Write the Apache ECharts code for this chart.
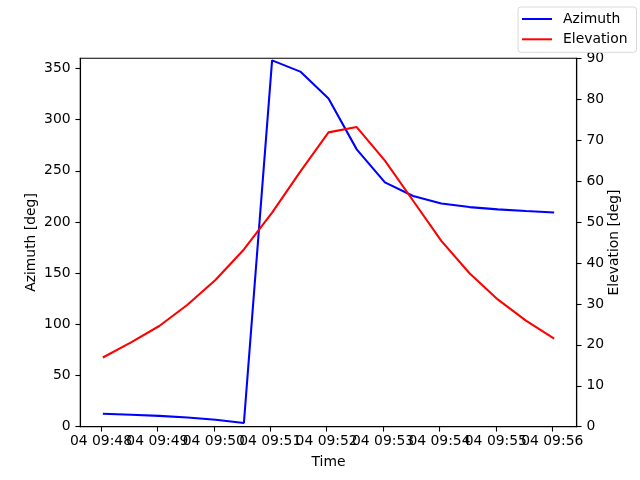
<!DOCTYPE html>
<html>
<head>
<meta charset="utf-8">
<script src="https://cdn.jsdelivr.net/npm/echarts@6/dist/echarts.min.js"></script>
<style>
  html, body { margin: 0; padding: 0; background: #fff; }
  #main { width: 640px; height: 480px; }
</style>
</head>
<body>
<div id="main"></div>
<script>
// sample times (day 04), one every 30 s
var times = ['09:48:02', '09:48:32', '09:49:02', '09:49:32', '09:50:02', '09:50:32',
             '09:51:02', '09:51:32', '09:52:02', '09:52:32', '09:53:02', '09:53:32',
             '09:54:02', '09:54:32', '09:55:02', '09:55:32', '09:56:02'];
var azimuth = [12.6, 11.6, 10.6, 9.0, 6.8, 3.6,
               358.0, 347.0, 320.7, 271.0, 238.7, 225.4,
               218.2, 214.6, 212.4, 210.7, 209.4];
var elevation = [16.9, 20.6, 24.6, 29.8, 35.9, 43.3,
                 52.3, 62.3, 71.9, 73.2, 65.0, 55.2,
                 45.4, 37.5, 31.1, 25.9, 21.5];
var xTicks = ['09:48', '09:49', '09:50', '09:51', '09:52', '09:53', '09:54', '09:55', '09:56'];
var azTicks = [0, 50, 100, 150, 200, 250, 300, 350];

// seconds from 09:48:00
function toSec(t) {
    var p = t.split(':');
    return (+p[0] - 9) * 3600 + (+p[1] - 48) * 60 + (p[2] ? +p[2] : 0);
}
var xs = times.map(toSec);
var span = xs[xs.length - 1] - xs[0];
// matplotlib style 5% margins on the time range
var xMin = xs[0] - 0.05 * span,
    xMax = xs[xs.length - 1] + 0.05 * span;
var tickSecs = xTicks.map(toSec);
var tickName = {};
xTicks.forEach(function (t, i) { tickName[tickSecs[i]] = '04 ' + t; });
// labels overlap like in matplotlib, so split them over two stacked axes
// (otherwise echarts drops the ones that collide)
var evenTicks = tickSecs.filter(function (v, i) { return i % 2 === 0; });
var oddTicks = tickSecs.filter(function (v, i) { return i % 2 === 1; });

var font = 'DejaVu Sans';
var fs = 13.9;
var axisLineStyle = {color: '#000', width: 1.1};

function timeAxis(ticks, withLine) {
    return {
        type: 'value',
        min: xMin,
        max: xMax,
        position: 'bottom',
        name: withLine ? 'Time' : '',
        nameLocation: 'middle',
        nameGap: 29,
        nameTextStyle: {fontFamily: font, fontSize: fs, color: '#000'},
        splitLine: {show: false},
        axisLine: {show: withLine, onZero: false, lineStyle: axisLineStyle},
        axisTick: {show: true, length: 4.9, lineStyle: axisLineStyle, customValues: ticks},
        axisLabel: {
            fontFamily: font, fontSize: fs, color: '#000', margin: 8,
            customValues: ticks,
            showMinLabel: true, showMaxLabel: true, hideOverlap: false,
            formatter: function (v) { return tickName[v] || ''; }
        }
    };
}

var chart = echarts.init(document.getElementById('main'), null, {renderer: 'canvas'});
chart.setOption({
    animation: false,
    backgroundColor: '#fff',
    textStyle: {fontFamily: font},
    grid: {
        left: 80.3, right: 63.3, top: 58.3, bottom: 53.3, containLabel: false,
        show: true, borderColor: '#000', borderWidth: 1.1
    },
    legend: {
        data: ['Azimuth', 'Elevation'],
        orient: 'vertical',
        left: 518,
        top: 7,
        padding: [5, 9, 6, 4],
        itemGap: 6.3,
        itemWidth: 30,
        itemHeight: 2,
        icon: 'rect',
        borderColor: '#d9d9d9',
        borderWidth: 1,
        borderRadius: 3,
        backgroundColor: 'rgba(255,255,255,0.8)',
        textStyle: {fontFamily: font, fontSize: fs, color: '#000', lineHeight: 14, padding: [0, 0, 0, 6]}
    },
    xAxis: [timeAxis(evenTicks, true), timeAxis(oddTicks, false)],
    yAxis: [{
        type: 'value',
        min: 0,
        max: 360,
        position: 'left',
        name: 'Azimuth [deg]',
        nameLocation: 'middle',
        nameRotate: 90,
        nameGap: 42,
        nameMoveOverlap: false,
        nameTextStyle: {fontFamily: font, fontSize: fs, color: '#000'},
        splitLine: {show: false},
        axisLine: {show: true, onZero: false, lineStyle: axisLineStyle},
        axisTick: {show: true, length: 4.9, lineStyle: axisLineStyle, customValues: azTicks},
        axisLabel: {fontFamily: font, fontSize: fs, color: '#000', margin: 9.7, customValues: azTicks}
    }, {
        type: 'value',
        min: 0,
        max: 90,
        interval: 10,
        position: 'right',
        name: 'Elevation [deg]',
        nameLocation: 'middle',
        nameRotate: 90,
        nameGap: 31,
        nameMoveOverlap: false,
        nameTextStyle: {fontFamily: font, fontSize: fs, color: '#000'},
        splitLine: {show: false},
        axisLine: {show: true, onZero: false, lineStyle: axisLineStyle},
        axisTick: {show: true, length: 4.9, lineStyle: axisLineStyle},
        axisLabel: {fontFamily: font, fontSize: fs, color: '#000', margin: 9.7}
    }],
    series: [{
        name: 'Azimuth',
        type: 'line',
        xAxisIndex: 0,
        yAxisIndex: 0,
        showSymbol: false,
        color: '#0000ff',
        lineStyle: {color: '#0000ff', width: 2.08},
        data: xs.map(function (x, i) { return [x, azimuth[i]]; })
    }, {
        name: 'Elevation',
        type: 'line',
        xAxisIndex: 0,
        yAxisIndex: 1,
        showSymbol: false,
        color: '#ff0000',
        lineStyle: {color: '#ff0000', width: 2.08},
        data: xs.map(function (x, i) { return [x, elevation[i]]; })
    }]
});
</script>
</body>
</html>
